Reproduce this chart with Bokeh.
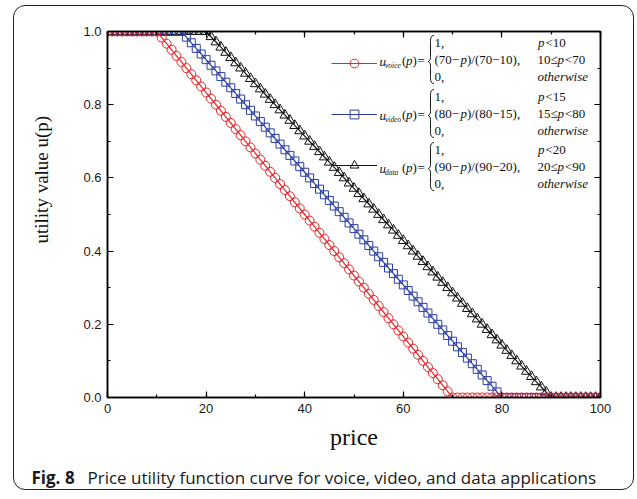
from math import pi
from bokeh.plotting import figure
from bokeh.layouts import column, row
from bokeh.models import (Range1d, LinearAxis, SingleIntervalTicker, PrintfTickFormatter,
                          CustomJSTickFormatter, Label, Legend, LegendItem, ColumnDataSource)
from bokeh.embed import file_html
from bokeh.resources import INLINE

# ---------------- data ----------------
price = [0, 1, 2, 3, 4, 5, 6, 7, 8, 9, 10, 11, 12, 13, 14, 15, 16, 17, 18, 19,
         20, 21, 22, 23, 24, 25, 26, 27, 28, 29, 30, 31, 32, 33, 34, 35, 36, 37, 38, 39,
         40, 41, 42, 43, 44, 45, 46, 47, 48, 49, 50, 51, 52, 53, 54, 55, 56, 57, 58, 59,
         60, 61, 62, 63, 64, 65, 66, 67, 68, 69, 70, 71, 72, 73, 74, 75, 76, 77, 78, 79,
         80, 81, 82, 83, 84, 85, 86, 87, 88, 89, 90, 91, 92, 93, 94, 95, 96, 97, 98, 99, 100]

u_voice = [1, 1, 1, 1, 1, 1, 1, 1, 1, 1, 1,
           .9833, .9667, .95, .9333, .9167, .9, .8833, .8667, .85, .8333,
           .8167, .8, .7833, .7667, .75, .7333, .7167, .7, .6833, .6667,
           .65, .6333, .6167, .6, .5833, .5667, .55, .5333, .5167, .5,
           .4833, .4667, .45, .4333, .4167, .4, .3833, .3667, .35, .3333,
           .3167, .3, .2833, .2667, .25, .2333, .2167, .2, .1833, .1667,
           .15, .1333, .1167, .1, .0833, .0667, .05, .0333, .0167,
           0, 0, 0, 0, 0, 0, 0, 0, 0, 0, 0, 0, 0, 0, 0, 0, 0, 0, 0, 0,
           0, 0, 0, 0, 0, 0, 0, 0, 0, 0, 0]

u_video = [1, 1, 1, 1, 1, 1, 1, 1, 1, 1, 1, 1, 1, 1, 1, 1,
           .9846, .9692, .9538, .9385, .9231, .9077, .8923, .8769, .8615, .8462,
           .8308, .8154, .8, .7846, .7692, .7538, .7385, .7231, .7077, .6923,
           .6769, .6615, .6462, .6308, .6154, .6, .5846, .5692, .5538, .5385,
           .5231, .5077, .4923, .4769, .4615, .4462, .4308, .4154, .4, .3846,
           .3692, .3538, .3385, .3231, .3077, .2923, .2769, .2615, .2462, .2308,
           .2154, .2, .1846, .1692, .1538, .1385, .1231, .1077, .0923, .0769,
           .0615, .0462, .0308, .0154,
           0, 0, 0, 0, 0, 0, 0, 0, 0, 0, 0, 0, 0, 0, 0, 0, 0, 0, 0, 0, 0]

u_data = [1, 1, 1, 1, 1, 1, 1, 1, 1, 1, 1, 1, 1, 1, 1, 1, 1, 1, 1, 1, 1,
          .9857, .9714, .9571, .9429, .9286, .9143, .9, .8857, .8714, .8571,
          .8429, .8286, .8143, .8, .7857, .7714, .7571, .7429, .7286, .7143,
          .7, .6857, .6714, .6571, .6429, .6286, .6143, .6, .5857, .5714,
          .5571, .5429, .5286, .5143, .5, .4857, .4714, .4571, .4429, .4286,
          .4143, .4, .3857, .3714, .3571, .3429, .3286, .3143, .3, .2857,
          .2714, .2571, .2429, .2286, .2143, .2, .1857, .1714, .1571, .1429,
          .1286, .1143, .1, .0857, .0714, .0571, .0429, .0286, .0143,
          0, 0, 0, 0, 0, 0, 0, 0, 0, 0, 0]

x_ticks_step = 20
y_ticks_step = 0.2
y_title = "utility value u(p)"
x_title = "price"
caption_bold = "Fig. 8"
caption_text = "Price utility function curve for voice, video, and data applications"

# ---------------- layout geometry (page px) ----------------
OX, OY = 14, 6               # content origin (inside rounded border)
CW = 619                     # content width
LAB_W = 60                   # narrow panel holding the y title
MAIN_W = CW - LAB_W
FRAME_L, FRAME_R, FRAME_T, FRAME_B = 107, 600, 31, 397
MAIN_H = 457
CAP_H = 26
CAP_BASE_FROM_TOP = 14

p = figure(width=MAIN_W, height=MAIN_H, output_backend="svg", toolbar_location=None,
           title=None, x_range=Range1d(0, 100), y_range=Range1d(0, 1),
           x_axis_type=None, y_axis_type=None,
           min_border_left=FRAME_L - (OX + LAB_W), min_border_right=(OX + CW) - FRAME_R,
           min_border_top=FRAME_T - OY, min_border_bottom=(OY + MAIN_H) - FRAME_B)
p.background_fill_color = "white"
p.border_fill_color = None
p.outline_line_color = "black"
p.outline_line_width = 1.5


def X(px):  # page px -> data x of main plot
    return (px - FRAME_L) / (FRAME_R - FRAME_L) * 100


def Y(py):  # page px -> data y of main plot
    return (FRAME_B - py) / (FRAME_B - FRAME_T)


def style_axis(ax):
    ax.major_tick_in = 6
    ax.major_tick_out = 0
    ax.minor_tick_in = 3
    ax.minor_tick_out = 0
    ax.axis_line_width = 1.5
    ax.major_tick_line_width = 1.2
    ax.minor_tick_line_width = 1.2
    ax.axis_line_color = "black"
    ax.major_label_text_font = "Liberation Sans"
    ax.major_label_text_font_size = "13px"
    ax.major_label_text_color = "#1a1a1a"


xt = SingleIntervalTicker(interval=x_ticks_step, num_minor_ticks=2)
yt = SingleIntervalTicker(interval=y_ticks_step, num_minor_ticks=2)
blank = CustomJSTickFormatter(code="return ''")

ax_b = LinearAxis(ticker=xt, axis_label=x_title)
style_axis(ax_b)
ax_b.major_label_standoff = 6
ax_b.axis_label_text_font = "Liberation Serif"
ax_b.axis_label_text_font_size = "24px"
ax_b.axis_label_text_font_style = "normal"
ax_b.axis_label_text_color = "#111111"
ax_b.axis_label_standoff = 8
p.add_layout(ax_b, "below")

ax_l = LinearAxis(ticker=yt, formatter=PrintfTickFormatter(format="%.1f"))
style_axis(ax_l)
ax_l.major_label_standoff = 6
p.add_layout(ax_l, "left")

ax_t = LinearAxis(ticker=xt, formatter=blank)
style_axis(ax_t)
p.add_layout(ax_t, "above")
ax_r = LinearAxis(ticker=yt, formatter=blank)
style_axis(ax_r)
p.add_layout(ax_r, "right")

# ---------------- series ----------------
src = ColumnDataSource(dict(price=price, voice=u_voice, video=u_video, data=u_data))
RED, BLUE, BLACK = "#e8262a", "#2b3fa6", "#111111"

l3 = p.line("price", "data", source=src, line_color=BLACK, line_width=1.2)
m3 = p.scatter("price", "data", source=src, marker="triangle", size=10,
               line_color=BLACK, fill_color=None, line_width=1)
l2 = p.line("price", "video", source=src, line_color=BLUE, line_width=1.2)
m2 = p.scatter("price", "video", source=src, marker="square", size=8,
               line_color=BLUE, fill_color=None, line_width=1)
l1 = p.line("price", "voice", source=src, line_color=RED, line_width=1.2)
m1 = p.scatter("price", "voice", source=src, marker="circle", size=9,
               line_color=RED, fill_color=None, line_width=1)

# ---------------- legend (samples) ----------------
leg = Legend(items=[LegendItem(label=" ", renderers=[l1, m1]),
                    LegendItem(label=" ", renderers=[l2, m2]),
                    LegendItem(label=" ", renderers=[l3, m3])],
             location=(331 - FRAME_L, FRAME_B - 176),
             glyph_width=46, glyph_height=22, label_height=22, label_width=1,
             label_text_font_size="1px", spacing=29, padding=0, margin=0,
             background_fill_alpha=0, border_line_alpha=0)
p.add_layout(leg)

# ---------------- formula text ----------------
SERIF = "Liberation Serif"


def txt(s, px, py, size="13px", style="normal"):
    p.add_layout(Label(x=X(px), y=Y(py), text=s, text_font=SERIF, text_font_size=size,
                       text_font_style=style, text_align="left", text_baseline="middle",
                       text_color="#111111"))


blocks = [("voice", 42, "70", "10"), ("video", 96, "80", "15"), ("data", 149, "90", "20")]
bx0, bx1, by0, by1, bcx0, bcy0, bcx1, bcy1 = [], [], [], [], [], [], [], []


def seg(a, b, c0, c1):
    bx0.append(X(a[0])); by0.append(Y(a[1]))
    bx1.append(X(b[0])); by1.append(Y(b[1]))
    bcx0.append(X(c0[0])); bcy0.append(Y(c0[1]))
    bcx1.append(X(c1[0])); bcy1.append(Y(c1[1]))


for name, t, hi, lo in blocks:
    txt("u", 379, t + 19, style="italic")
    txt(name, 384.5, t + 22.5, size="7.5px", style="italic")
    txt("(", 401.5, t + 18)
    txt("p", 405.5, t + 18, style="italic")
    txt(")", 412, t + 18)
    txt("=", 417, t + 18)
    txt("1,", 434, t)
    txt("(" + hi + "\u2212", 434, t + 17)
    txt("p", 460, t + 17, style="italic")
    txt(")/(" + hi + "\u2212" + lo + "),", 466.5, t + 17)
    txt("0,", 434, t + 34)
    txt("p", 537.5, t, style="italic")
    txt("<" + lo, 545, t)
    txt(lo + "\u2264", 537, t + 17)
    txt("p", 557, t + 17, style="italic")
    txt("<" + hi, 564.5, t + 17)
    txt("otherwise", 537, t + 34, style="italic")
    # curly brace
    top, tip, bot = t - 7, t + 19, t + 41
    sx, ex, tx = 430, 433.5, 427.5
    seg((ex, top), (sx, top + 5), (431, top), (sx, top + 2))
    seg((sx, top + 5), (sx, tip - 4), (sx, top + 5), (sx, tip - 4))
    seg((sx, tip - 4), (tx, tip), (sx, tip - 1.5), (tx + 1, tip))
    seg((tx, tip), (sx, tip + 4), (tx + 1, tip), (sx, tip + 1.5))
    seg((sx, tip + 4), (sx, bot - 5), (sx, tip + 4), (sx, bot - 5))
    seg((sx, bot - 5), (ex, bot), (sx, bot - 2), (431, bot))

p.bezier(x0=bx0, y0=by0, x1=bx1, y1=by1, cx0=bcx0, cy0=bcy0, cx1=bcx1, cy1=bcy1,
         line_color="#111111", line_width=1)


# ---------------- side panels: y title and caption ----------------
def panel(w, h):
    f = figure(width=w, height=h, output_backend="svg", toolbar_location=None, title=None,
               x_range=Range1d(0, w), y_range=Range1d(0, h),
               x_axis_type=None, y_axis_type=None,
               min_border_left=0, min_border_right=0, min_border_top=0, min_border_bottom=0)
    f.outline_line_color = None
    f.background_fill_color = None
    f.border_fill_color = None
    return f


lab = panel(LAB_W, MAIN_H)
lab.add_layout(Label(x=41 - OX, y=MAIN_H - (191 - OY), text=y_title, text_font=SERIF,
                     text_font_size="19px", angle=pi / 2, text_align="center",
                     text_baseline="middle", text_color="#111111"))

cap = panel(CW, CAP_H)
cap_base = CAP_H - CAP_BASE_FROM_TOP
cap.add_layout(Label(x=31 - OX, y=cap_base, text=caption_bold, text_font="Open Sans",
                     text_font_size="17px", text_font_style="bold",
                     text_baseline="alphabetic", text_color="#1a1a1a"))
cap.add_layout(Label(x=87 - OX, y=cap_base, text=caption_text, text_font="Open Sans",
                     text_font_size="17px", text_baseline="alphabetic",
                     text_color="#1a1a1a"))

layout = column(row(lab, p), cap, margin=(5, 0, 0, 13),
                styles={"border": "1px solid #222222", "border-radius": "12px"})

open("out.html", "w").write(file_html(layout, INLINE))
